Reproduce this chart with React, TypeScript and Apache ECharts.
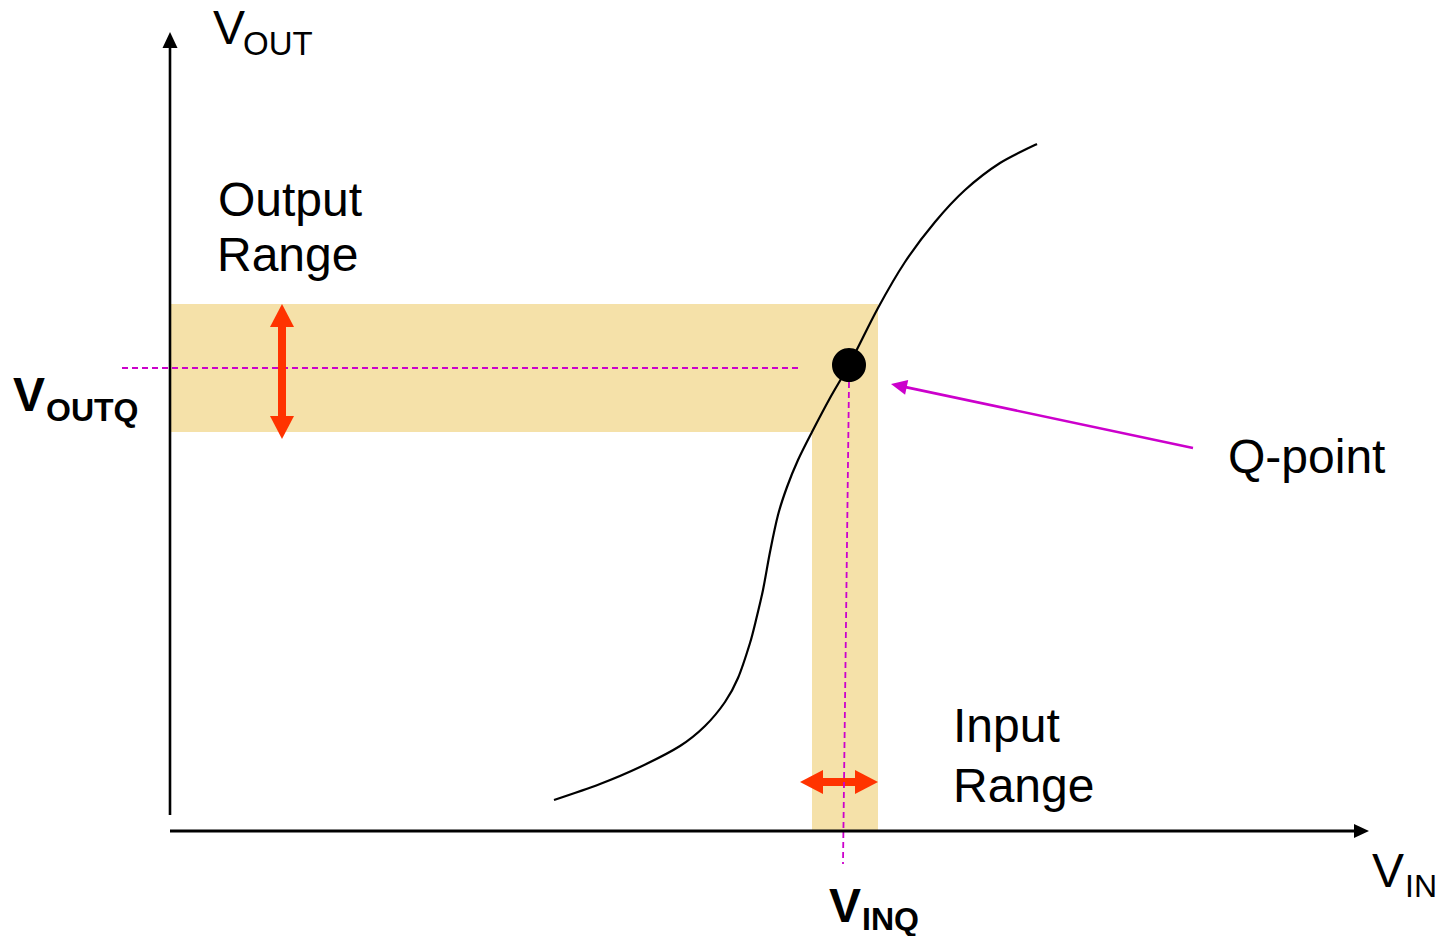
import React, { useEffect, useRef } from "react";
import * as echarts from "echarts";

// Axis extents (chart units; 1 unit = 10 px, origin at the axes' corner)
const X_MIN = -17;
const X_MAX = 127.1;
const Y_MIN = -10.5;
const Y_MAX = 83.1;

// Transfer characteristic curve (VIN, VOUT)
const curveX = [38.4, 43.0, 47.0, 51.0, 53.5, 55.5, 56.8, 58.0, 58.6, 59.3, 60.0, 60.8, 61.7, 62.8, 64.2, 66.0, 67.9, 70.8, 73.5, 76.5, 79.5, 83.0, 86.7];
const curveY = [3.1, 4.7, 6.4, 8.5, 10.5, 12.9, 15.3, 18.8, 21.1, 24.1, 27.9, 31.6, 34.4, 37.1, 39.9, 43.3, 46.6, 52.3, 56.9, 60.9, 64.1, 66.8, 68.7];

// Q-point
const qPoint = [67.9, 46.6];

// Shaded ranges [x0, y0, x1, y1]
const bands = [
  [0, 39.9, 70.8, 52.7], // output range
  [64.2, 0, 70.8, 39.9], // input range
];

// Dashed guides
const hGuide = [[-4.8, 46.3], [63.0, 46.3]];
const vGuide = [[67.9, 44.9], [67.3, -3.3]];

// Range arrows [x1, y1, x2, y2]
const rangeArrows = [
  [11.2, 39.2, 11.2, 52.7],
  [63.0, 4.9, 70.8, 4.9],
];
// Axis arrows + pointer arrow [x1, y1, x2, y2]
const otherArrows = [
  [0, 1.6, 0, 79.9],
  [0, 0, 119.9, 0],
  [102.3, 38.3, 72.1, 44.7],
];

const RED = "#FF3300";
const MAGENTA = "#CC00CC";
const BAND = "#F5E1A9";
const FONT = '"Liberation Sans", Arial, Helvetica, sans-serif';

type ArrowStyle = { color: string; start: boolean; end: boolean; headLen: number; headW: number; shaftW: number };
const rangeArrowStyles: ArrowStyle[] = [
  { color: RED, start: true, end: true, headLen: 23, headW: 24, shaftW: 8 },
  { color: RED, start: true, end: true, headLen: 23, headW: 24, shaftW: 8 },
];
const otherArrowStyles: ArrowStyle[] = [
  { color: "#000", start: false, end: true, headLen: 16, headW: 15, shaftW: 2.6 },
  { color: "#000", start: false, end: true, headLen: 15, headW: 14, shaftW: 3 },
  { color: MAGENTA, start: false, end: true, headLen: 16, headW: 15, shaftW: 2.6 },
];

function arrowRenderer(styles: ArrowStyle[]) {
  return (params: any, api: any) => {
    const s = styles[params.dataIndex];
    const p1 = api.coord([api.value(0), api.value(1)]);
    const p2 = api.coord([api.value(2), api.value(3)]);
    const dx = p2[0] - p1[0];
    const dy = p2[1] - p1[1];
    const len = Math.sqrt(dx * dx + dy * dy) || 1;
    const ux = dx / len;
    const uy = dy / len;
    const nx = -uy;
    const ny = ux;
    const children: any[] = [];
    let a = p1;
    let b = p2;
    const head = (tip: number[], dirX: number, dirY: number) => {
      const bx = tip[0] - dirX * s.headLen;
      const by = tip[1] - dirY * s.headLen;
      children.push({
        type: "polygon",
        shape: {
          points: [
            [tip[0], tip[1]],
            [bx + nx * s.headW / 2, by + ny * s.headW / 2],
            [bx - nx * s.headW / 2, by - ny * s.headW / 2],
          ],
        },
        style: { fill: s.color },
      });
      return [bx + dirX * 1, by + dirY * 1];
    };
    if (s.end) b = head(p2, ux, uy);
    if (s.start) a = head(p1, -ux, -uy);
    children.unshift({
      type: "line",
      shape: { x1: a[0], y1: a[1], x2: b[0], y2: b[1] },
      style: { stroke: s.color, lineWidth: s.shaftW, lineCap: "butt" },
    });
    return { type: "group", children };
  };
}

function textEl(text: string, x: number, y: number, size: number, bold = false) {
  return {
    type: "text",
    x,
    y,
    style: {
      text,
      fontSize: size,
      fontFamily: FONT,
      fontWeight: bold ? "bold" : "normal",
      fill: "#000",
      align: "left",
      verticalAlign: "middle",
    },
  };
}

export default function App() {
  const ref = useRef<HTMLDivElement>(null);
  useEffect(() => {
    if (!ref.current) return;
    const chart = echarts.init(ref.current, null, { renderer: "svg" });
    chart.setOption({
      animation: false,
      backgroundColor: "#fff",
      grid: { left: 0, top: 0, right: 0, bottom: 0, containLabel: false },
      xAxis: { type: "value", min: X_MIN, max: X_MAX, show: false },
      yAxis: { type: "value", min: Y_MIN, max: Y_MAX, show: false },
      series: [
        {
          type: "custom",
          z: 1,
          silent: true,
          renderItem: (params: any, api: any) => {
            const a = api.coord([api.value(0), api.value(1)]);
            const b = api.coord([api.value(2), api.value(3)]);
            return {
              type: "rect",
              shape: {
                x: Math.min(a[0], b[0]),
                y: Math.min(a[1], b[1]),
                width: Math.abs(b[0] - a[0]),
                height: Math.abs(b[1] - a[1]),
              },
              style: { fill: BAND },
            };
          },
          data: bands,
        },
        {
          type: "line",
          z: 2,
          symbol: "none",
          silent: true,
          lineStyle: { color: MAGENTA, width: 1.8, type: [6, 4] },
          data: hGuide,
        },
        {
          type: "custom",
          z: 3,
          silent: true,
          renderItem: arrowRenderer(rangeArrowStyles),
          data: rangeArrows,
        },
        {
          type: "line",
          z: 4,
          symbol: "none",
          silent: true,
          lineStyle: { color: MAGENTA, width: 1.8, type: [6, 4] },
          data: vGuide,
        },
        {
          type: "custom",
          z: 5,
          silent: true,
          renderItem: arrowRenderer(otherArrowStyles),
          data: otherArrows,
        },
        {
          type: "line",
          z: 6,
          symbol: "none",
          smooth: 0.3,
          silent: true,
          lineStyle: { color: "#000", width: 2.2 },
          data: curveX.map((x, i) => [x, curveY[i]]),
        },
        {
          type: "scatter",
          z: 7,
          symbolSize: 34,
          silent: true,
          itemStyle: { color: "#000", opacity: 1 },
          data: [qPoint],
        },
      ],
      graphic: [
        textEl("V", 213, 27.5, 48),
        textEl("OUT", 243, 43.5, 33),
        textEl("Output", 218, 199, 48),
        textEl("Range", 217, 254, 48),
        textEl("V", 13, 394.5, 48, true),
        textEl("OUTQ", 46, 410, 32, true),
        textEl("Q-point", 1228, 456, 48),
        textEl("Input", 953, 725.5, 48),
        textEl("Range", 953, 785, 48),
        textEl("V", 829, 905.5, 48, true),
        textEl("INQ", 862, 919, 32, true),
        textEl("V", 1372, 870.5, 48),
        textEl("IN", 1405, 885.5, 32),
      ],
    });
    return () => chart.dispose();
  }, []);
  return (
    <div
      ref={ref}
      style={{ position: "fixed", left: 0, top: 0, width: 1441, height: 936, background: "#fff" }}
    />
  );
}
